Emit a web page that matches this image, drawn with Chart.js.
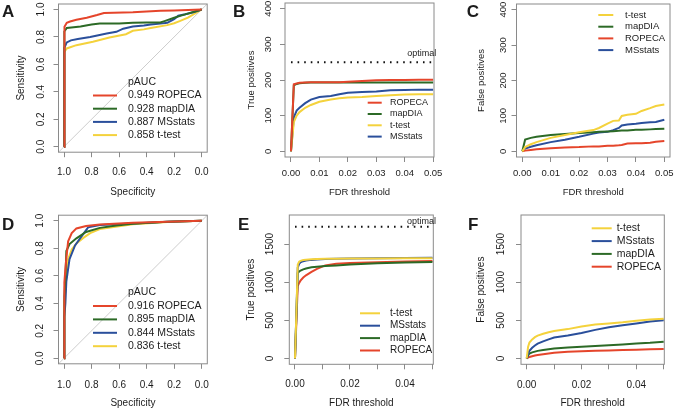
<!DOCTYPE html>
<html>
<head>
<meta charset="utf-8">
<script src="https://cdn.jsdelivr.net/npm/chart.js@4.4.1/dist/chart.umd.min.js"></script>
<style>
  html, body { margin: 0; padding: 0; background: #fff; }
  #fig { position: relative; width: 675px; height: 410px; }
  .panel { position: absolute; width: 225px; height: 205px; }
</style>
</head>
<body>
<div id="fig">
  <div class="panel" style="left:0;top:0"><canvas id="chartA" width="225" height="205"></canvas></div>
  <div class="panel" style="left:225px;top:0"><canvas id="chartB" width="225" height="205"></canvas></div>
  <div class="panel" style="left:450px;top:0"><canvas id="chartC" width="225" height="205"></canvas></div>
  <div class="panel" style="left:0;top:205px"><canvas id="chartD" width="225" height="205"></canvas></div>
  <div class="panel" style="left:225px;top:205px"><canvas id="chartE" width="225" height="205"></canvas></div>
  <div class="panel" style="left:450px;top:205px"><canvas id="chartF" width="225" height="205"></canvas></div>
</div>
<script>
// ---- data ----

// A: ROC, specificity / sensitivity
const methodsA = ['ROPECA', 'mapDIA', 'MSstats', 't-test'];
const aucA = [0.949, 0.928, 0.887, 0.858];
const specA_ropeca = [1.0, 1.0, 0.997, 0.993, 0.98, 0.956, 0.91, 0.835, 0.76, 0.71, 0.5, 0.3, 0.2, 0.1, 0.0];
const sensA_ropeca = [0.0, 0.7, 0.84, 0.874, 0.903, 0.912, 0.925, 0.94, 0.96, 0.975, 0.98, 0.99, 0.993, 0.997, 1.0];
const specA_mapdia = [1.0, 1.0, 0.995, 0.98, 0.93, 0.88, 0.8, 0.74, 0.6, 0.5, 0.4, 0.3, 0.27, 0.2, 0.15, 0.1, 0.05, 0.0];
const sensA_mapdia = [0.0, 0.75, 0.84, 0.865, 0.87, 0.876, 0.89, 0.898, 0.898, 0.903, 0.905, 0.905, 0.915, 0.94, 0.955, 0.97, 0.985, 1.0];
const specA_msstats = [1.0, 1.0, 0.995, 0.98, 0.95, 0.9, 0.81, 0.69, 0.62, 0.57, 0.5, 0.42, 0.37, 0.3, 0.25, 0.2, 0.17, 0.12, 0.06, 0.0];
const sensA_msstats = [0.0, 0.6, 0.72, 0.76, 0.775, 0.785, 0.8, 0.825, 0.837, 0.86, 0.876, 0.883, 0.89, 0.897, 0.903, 0.93, 0.955, 0.965, 0.98, 1.0];
const specA_ttest = [1.0, 1.0, 0.995, 0.98, 0.91, 0.79, 0.67, 0.55, 0.5, 0.42, 0.37, 0.25, 0.2, 0.16, 0.1, 0.06, 0.0];
const sensA_ttest = [0.0, 0.55, 0.69, 0.716, 0.74, 0.765, 0.796, 0.82, 0.845, 0.855, 0.865, 0.886, 0.9, 0.915, 0.94, 0.965, 1.0];

// D: ROC, second data set
const methodsD = ['ROPECA', 'mapDIA', 'MSstats', 't-test'];
const aucD = [0.916, 0.895, 0.844, 0.836];
const specD_ropeca = [1.0, 1.0, 0.995, 0.99, 0.983, 0.97, 0.944, 0.91, 0.84, 0.74, 0.5, 0.25, 0.0];
const sensD_ropeca = [0.0, 0.3, 0.55, 0.65, 0.73, 0.85, 0.91, 0.944, 0.962, 0.972, 0.985, 0.993, 1.0];
const specD_mapdia = [1.0, 1.0, 0.995, 0.99, 0.983, 0.96, 0.91, 0.84, 0.74, 0.62, 0.5, 0.25, 0.0];
const sensD_mapdia = [0.0, 0.3, 0.45, 0.58, 0.78, 0.83, 0.872, 0.918, 0.948, 0.965, 0.978, 0.992, 1.0];
const specD_msstats = [1.0, 1.0, 0.995, 0.99, 0.983, 0.96, 0.92, 0.87, 0.825, 0.74, 0.5, 0.25, 0.0];
const sensD_msstats = [0.0, 0.2, 0.3, 0.4, 0.56, 0.72, 0.82, 0.89, 0.952, 0.968, 0.98, 0.993, 1.0];
const specD_ttest = [1.0, 1.0, 0.995, 0.985, 0.97, 0.944, 0.91, 0.86, 0.81, 0.74, 0.5, 0.25, 0.0];
const sensD_ttest = [0.0, 0.25, 0.4, 0.58, 0.72, 0.79, 0.835, 0.875, 0.91, 0.94, 0.975, 0.99, 1.0];

// B: true positives vs FDR threshold
const methodsB = ['ROPECA', 'mapDIA', 't-test', 'MSstats'];
const fdrB = [0, 0.001, 0.002, 0.003, 0.005, 0.007, 0.01, 0.014, 0.017, 0.02, 0.025, 0.03, 0.035, 0.04, 0.045, 0.05];
const tpB_ropeca = [0, 188, 190, 192, 193, 194, 194, 194, 194, 195, 197, 199, 200, 200, 201, 201];
const tpB_mapdia = [0, 185, 189, 191, 192, 193, 193, 193, 193, 193, 193, 193, 193, 193, 193, 193];
const tpB_ttest = [0, 82, 100, 110, 122, 130, 139, 145, 149, 151, 152, 155, 157, 159, 160, 160];
const tpB_msstats = [0, 95, 114, 122, 135, 145, 152, 155, 160, 164, 166, 168, 171, 172, 173, 173];
const optimalB = 250;

// C: false positives vs FDR threshold
const methodsC = ['t-test', 'mapDIA', 'ROPECA', 'MSstats'];
const fdrC = [0, 0.001, 0.003, 0.005, 0.01, 0.015, 0.02, 0.025, 0.027, 0.03, 0.032, 0.034, 0.035, 0.037, 0.04, 0.042, 0.045, 0.047, 0.05];
const fpC_ttest = [0, 12, 20, 26, 38, 46, 54, 60, 66, 78, 86, 87, 100, 103, 106, 114, 122, 128, 132];
const fpC_mapdia = [0, 33, 38, 41, 46, 49, 52, 54, 55, 56, 57, 58, 59, 59, 61, 61, 62, 63, 64];
const fpC_ropeca = [0, 2, 4, 6, 9, 11, 12, 14, 14, 16, 16, 17, 18, 22, 23, 23, 24, 27, 29];
const fpC_msstats = [0, 8, 13, 17, 26, 33, 41, 50, 53, 55, 60, 66, 73, 76, 78, 80, 82, 83, 89];

// E: true positives, second data set
const methodsE = ['t-test', 'MSstats', 'mapDIA', 'ROPECA'];
const fdrE = [0, 0.0005, 0.001, 0.0015, 0.002, 0.003, 0.004, 0.006, 0.008, 0.011, 0.015, 0.02, 0.03, 0.04, 0.05];
const tpE_ttest = [0, 600, 1230, 1268, 1280, 1290, 1295, 1300, 1303, 1306, 1308, 1310, 1311, 1312, 1312];
const tpE_msstats = [0, 580, 1190, 1240, 1260, 1275, 1283, 1292, 1298, 1303, 1307, 1310, 1314, 1317, 1320];
const tpE_mapdia = [0, 560, 1120, 1140, 1150, 1168, 1180, 1195, 1203, 1211, 1220, 1233, 1248, 1258, 1265];
const tpE_ropeca = [0, 480, 950, 990, 1020, 1060, 1090, 1135, 1175, 1220, 1240, 1252, 1262, 1270, 1277];
const optimalE = 1725;

// F: false positives, second data set
const methodsF = ['t-test', 'MSstats', 'mapDIA', 'ROPECA'];
const fdrF = [0, 0.0005, 0.001, 0.002, 0.003, 0.004, 0.006, 0.008, 0.01, 0.015, 0.02, 0.025, 0.03, 0.035, 0.04, 0.045, 0.05];
const fpF_ttest = [0, 150, 210, 250, 280, 300, 325, 345, 360, 385, 420, 445, 460, 475, 495, 510, 522];
const fpF_msstats = [0, 60, 100, 140, 170, 195, 225, 250, 275, 300, 335, 375, 410, 435, 460, 485, 500];
const fpF_mapdia = [0, 40, 65, 80, 90, 100, 110, 120, 130, 145, 155, 165, 175, 185, 195, 205, 220];
const fpF_ropeca = [0, 10, 20, 30, 38, 45, 55, 65, 75, 90, 95, 100, 105, 110, 115, 120, 125];

// tick values / labels
const rocTicks = [0, 0.2, 0.4, 0.6, 0.8, 1.0];
const rocTickLabels = ['0.0', '0.2', '0.4', '0.6', '0.8', '1.0'];
const fdrTicks = [0, 0.01, 0.02, 0.03, 0.04, 0.05];
const fdrTickLabels = ['0.00', '0.01', '0.02', '0.03', '0.04', '0.05'];
const fdrTickLabelsSparse = ['0.00', '', '0.02', '', '0.04', ''];
const countTicksSmall = [0, 100, 200, 300, 400];
const countTicksSmallLabels = ['0', '100', '200', '300', '400'];
const countTicksLarge = [0, 500, 1000, 1500];
const countTicksLargeLabels = ['0', '500', '1000', '1500'];

// ---- drawing ----
const FONT = "'Liberation Sans', Arial, Helvetica, sans-serif";
const TEXT = '#1c1c1c';
const BOX = '#8a8a8a';
const COLORS = { 'ROPECA': '#E5452B', 'mapDIA': '#2C6A26', 'MSstats': '#2A4F9B', 't-test': '#F4D23C' };

function pts(xs, ys) {
  return xs.map((x, i) => ({ x: x, y: ys[i] }));
}

function series(label, method, xs, ys) {
  return { label: label, data: pts(xs, ys), borderColor: COLORS[method], borderWidth: 2, pointRadius: 0, tension: 0, fill: false };
}

// box, rotated y labels, legend inside the plot, panel letter
const rStyle = {
  id: 'rStyle',
  afterDraw(chart, args, o) {
    const ctx = chart.ctx;
    const a = chart.chartArea;
    const sx = chart.scales.x;
    const sy = chart.scales.y;
    ctx.save();
    ctx.strokeStyle = BOX;
    ctx.lineWidth = 1;
    ctx.strokeRect(a.left, a.top, a.right - a.left, a.bottom - a.top);

    ctx.fillStyle = TEXT;
    ctx.font = o.tickSize + 'px ' + FONT;
    ctx.textAlign = 'center';
    ctx.textBaseline = 'middle';
    o.yTicks.forEach((v, i) => {
      ctx.save();
      ctx.translate(o.yLabelX, sy.getPixelForValue(v));
      ctx.rotate(-Math.PI / 2);
      ctx.fillText(o.yTickLabels[i], 0, 0);
      ctx.restore();
    });

    if (o.optimal) {
      ctx.font = '9px ' + FONT;
      ctx.fillText('optimal', sx.getPixelForValue(o.optimal.x), sy.getPixelForValue(o.optimal.y) - o.optimal.dy);
    }

    // legend (R style, no frame)
    const lg = o.legend;
    ctx.font = lg.size + 'px ' + FONT;
    ctx.textAlign = 'left';
    if (lg.header) {
      ctx.fillText(lg.header, lg.textX, lg.y0 - lg.dy);
    }
    for (let i = 0; i < 4; i++) {
      const ds = chart.data.datasets[i];
      const y = lg.y0 + i * lg.dy;
      ctx.strokeStyle = ds.borderColor;
      ctx.lineWidth = 2;
      ctx.beginPath();
      ctx.moveTo(lg.lineX0, y);
      ctx.lineTo(lg.lineX1, y);
      ctx.stroke();
      ctx.fillText(ds.label, lg.textX, y);
    }

    ctx.font = 'bold 17px ' + FONT;
    ctx.textBaseline = 'alphabetic';
    ctx.fillText(o.letter, o.letterX, o.letterY);
    ctx.restore();
  }
};

function buildChart(id, p, datasets) {
  const [L, T, R, B] = p.area;
  new Chart(document.getElementById(id), {
    type: 'line',
    data: { datasets: datasets },
    options: {
      responsive: false,
      animation: false,
      events: [],
      layout: { padding: { left: 0, top: T, right: 225 - R, bottom: 0 } },
      plugins: { legend: { display: false }, tooltip: { enabled: false }, rStyle: p },
      scales: {
        x: {
          type: 'linear', min: p.xMin, max: p.xMax, reverse: !!p.xReverse,
          afterBuildTicks: s => { s.ticks = p.xTicks.map(v => ({ value: v })); },
          afterFit: s => { s.height = 205 - B; s.paddingLeft = 0; s.paddingRight = 0; },
          border: { display: false },
          grid: { drawOnChartArea: false, drawTicks: true, tickLength: 5, color: BOX },
          ticks: {
            autoSkip: false, maxRotation: 0, minRotation: 0, color: TEXT,
            padding: p.xLabelY - B - 5 - p.tickSize * 0.6,
            font: { family: FONT, size: p.tickSize },
            callback: (v, i) => p.xTickLabels[i]
          },
          title: {
            display: true, text: p.xTitle, color: TEXT, font: { family: FONT, size: p.titleSize },
            padding: { top: 0, bottom: 205 - p.xTitleY - p.titleSize * 0.6 }
          }
        },
        y: {
          type: 'linear', min: p.yMin, max: p.yMax,
          afterBuildTicks: s => { s.ticks = p.yTicks.map(v => ({ value: v })); },
          afterFit: s => { s.width = L; s.paddingTop = 0; s.paddingBottom = 0; },
          border: { display: false },
          grid: { drawOnChartArea: false, drawTicks: true, tickLength: 5, color: BOX },
          ticks: { display: false },
          title: {
            display: true, text: p.yTitle, color: TEXT, font: { family: FONT, size: p.titleSize },
            padding: { top: p.yTitleX - p.titleSize * 0.6, bottom: 0 }
          }
        }
      }
    },
    plugins: [rStyle]
  });
}

function rocSets(methods, auc, specs, senss) {
  const sets = methods.map((m, i) => series(auc[i].toFixed(3) + ' ' + m, m, specs[i], senss[i]));
  sets.push({ label: 'diag', data: pts([1.04, -0.04], [-0.04, 1.04]), borderColor: '#cdcdcd', borderWidth: 1, pointRadius: 0 });
  return sets;
}

function optimalSet(y) {
  return { label: 'optimal', data: pts([0, 0.05], [y, y]), borderColor: '#111', borderWidth: 2, borderDash: [1.6, 5], pointRadius: 0 };
}

const rocBase = {
  xMin: -0.04, xMax: 1.04, xReverse: true, yMin: -0.04, yMax: 1.04,
  xTicks: rocTicks, xTickLabels: rocTickLabels, yTicks: rocTicks, yTickLabels: rocTickLabels,
  xTitle: 'Specificity', yTitle: 'Sensitivity', tickSize: 10, titleSize: 10
};

buildChart('chartA', Object.assign({}, rocBase, {
  area: [58.5, 4, 207.2, 152.2], xLabelY: 172.3, xTitleY: 192, yTitleX: 21.7, yLabelX: 41.7,
  legend: { header: 'pAUC', y0: 95.5, dy: 13.2, lineX0: 93, lineX1: 117, textX: 128, size: 10.5 },
  letter: 'A', letterX: 2, letterY: 17
}), rocSets(methodsA, aucA,
  [specA_ropeca, specA_mapdia, specA_msstats, specA_ttest],
  [sensA_ropeca, sensA_mapdia, sensA_msstats, sensA_ttest]));

buildChart('chartD', Object.assign({}, rocBase, {
  area: [58.5, 10.2, 207.3, 158.8], xLabelY: 180, xTitleY: 198.3, yTitleX: 21.7, yLabelX: 40.7,
  legend: { header: 'pAUC', y0: 101, dy: 13.4, lineX0: 93, lineX1: 117, textX: 128, size: 10.5 },
  letter: 'D', letterX: 2, letterY: 25
}), rocSets(methodsD, aucD,
  [specD_ropeca, specD_mapdia, specD_msstats, specD_ttest],
  [sensD_ropeca, sensD_mapdia, sensD_msstats, sensD_ttest]));

const tpB = [tpB_ropeca, tpB_mapdia, tpB_ttest, tpB_msstats];
const setsB = methodsB.map((m, i) => series(m, m, fdrB, tpB[i]));
setsB.push(optimalSet(optimalB));
buildChart('chartB', {
  area: [60, 3, 209, 157], xMin: -0.0021, xMax: 0.0503, yMin: -16, yMax: 416,
  xTicks: fdrTicks, xTickLabels: fdrTickLabels, yTicks: countTicksSmall, yTickLabels: countTicksSmallLabels,
  xTitle: 'FDR threshold', yTitle: 'True positives', tickSize: 9.5, titleSize: 9.5,
  xLabelY: 173.3, xTitleY: 192.3, yTitleX: 26.7, yLabelX: 43.3,
  optimal: { x: 0.046, y: optimalB, dy: 8.4 },
  legend: { y0: 102.7, dy: 11.3, lineX0: 142.7, lineX1: 156.7, textX: 165, size: 9 },
  letter: 'B', letterX: 8, letterY: 17
}, setsB);

const fpC = [fpC_ttest, fpC_mapdia, fpC_ropeca, fpC_msstats];
buildChart('chartC', {
  area: [66.5, 4, 220, 157], xMin: -0.00204, xMax: 0.052, yMin: -16, yMax: 416,
  xTicks: fdrTicks, xTickLabels: fdrTickLabels, yTicks: countTicksSmall, yTickLabels: countTicksSmallLabels,
  xTitle: 'FDR threshold', yTitle: 'False positives', tickSize: 9.5, titleSize: 9.5,
  xLabelY: 173.3, xTitleY: 192.3, yTitleX: 31.7, yLabelX: 53.3,
  legend: { y0: 15, dy: 11.7, lineX0: 148.3, lineX1: 163.3, textX: 175, size: 9.5 },
  letter: 'C', letterX: 16.7, letterY: 17
}, methodsC.map((m, i) => series(m, m, fdrC, fpC[i])));

const tpE = [tpE_ttest, tpE_msstats, tpE_mapdia, tpE_ropeca];
const setsE = methodsE.map((m, i) => series(m, m, fdrE, tpE[i]));
setsE.push(optimalSet(optimalE));
buildChart('chartE', {
  area: [64.3, 10, 208.3, 159.3], xMin: -0.00207, xMax: 0.0503, yMin: -76, yMax: 1880,
  xTicks: fdrTicks, xTickLabels: fdrTickLabelsSparse, yTicks: countTicksLarge, yTickLabels: countTicksLargeLabels,
  xTitle: 'FDR threshold', yTitle: 'True positives', tickSize: 10, titleSize: 10,
  xLabelY: 179.3, xTitleY: 198.3, yTitleX: 26.7, yLabelX: 45,
  optimal: { x: 0.046, y: optimalE, dy: 5 },
  legend: { y0: 108.3, dy: 12.4, lineX0: 135, lineX1: 155, textX: 165, size: 10 },
  letter: 'E', letterX: 13, letterY: 25
}, setsE);

const fpF = [fpF_ttest, fpF_msstats, fpF_mapdia, fpF_ropeca];
buildChart('chartF', {
  area: [71, 10, 214.3, 159.3], xMin: -0.00208, xMax: 0.0502, yMin: -76, yMax: 1880,
  xTicks: fdrTicks, xTickLabels: fdrTickLabelsSparse, yTicks: countTicksLarge, yTickLabels: countTicksLargeLabels,
  xTitle: 'FDR threshold', yTitle: 'False positives', tickSize: 10, titleSize: 10,
  xLabelY: 180, xTitleY: 198.3, yTitleX: 31.7, yLabelX: 51.7,
  legend: { y0: 23.3, dy: 12.8, lineX0: 141.7, lineX1: 161.7, textX: 166.7, size: 10.5 },
  letter: 'F', letterX: 18, letterY: 25
}, methodsF.map((m, i) => series(m, m, fdrF, fpF[i])));
</script>
</body>
</html>
